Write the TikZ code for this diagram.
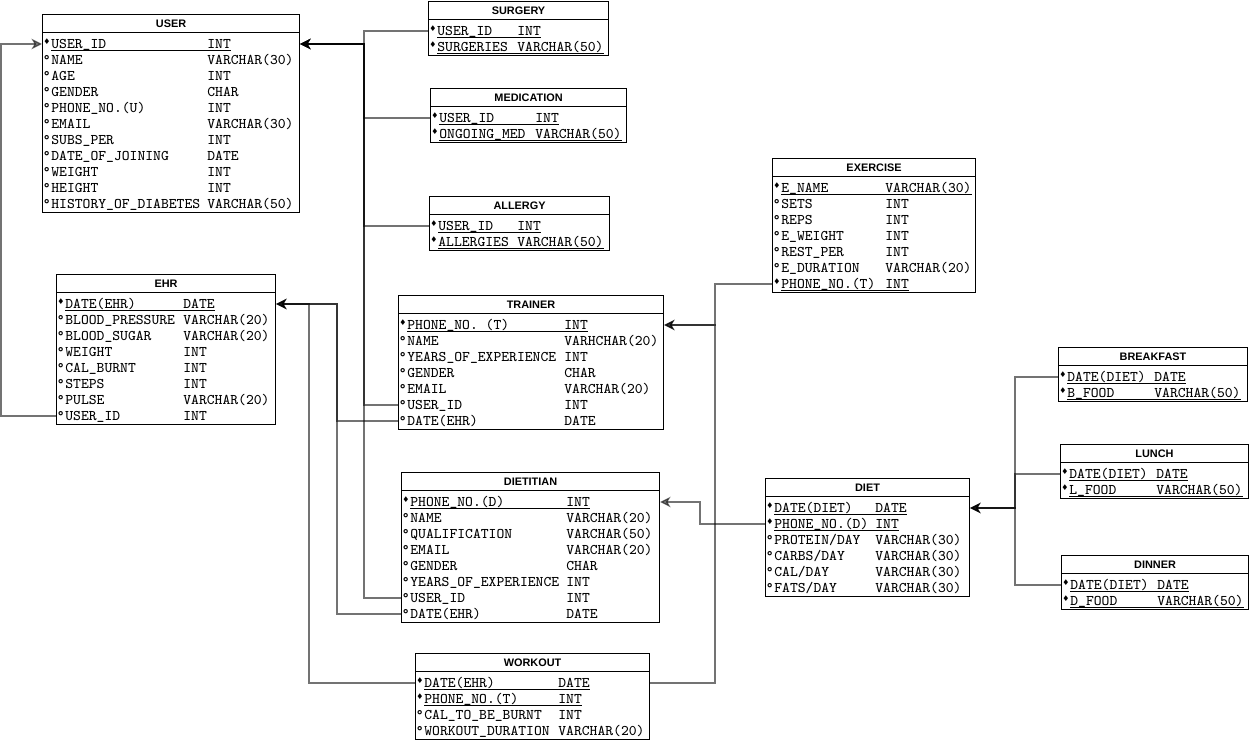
\documentclass[tikz,border=0pt]{standalone}
\usepackage{fontspec}
\usepackage{tikz}
\usetikzlibrary{arrows.meta}

\newfontfamily\hdfont{Liberation Sans}
\newfontfamily\markfont{DejaVu Sans}

\newlength{\px}
\setlength{\px}{0.02cm}

\newcommand{\keymark}{{\markfont\fontsize{4.5}{5}\selectfont\raisebox{2.3pt}{♦}}}
\newcommand{\attrmark}{°}
\newcommand{\keyline}[1]{\setbox0\hbox{#1}\rlap{\smash{\rule[-1.3pt]{\wd0}{0.45pt}}}\box0}
\newcommand{\keyrow}[3]{\hbox to 9\px{\hss\keymark\hss}\keyline{\makebox[#1\px][l]{#2}#3}}
\newcommand{\atrow}[3]{\hbox to 9\px{\hss\attrmark\hss}\makebox[#1\px][l]{#2}#3}

\tikzset{
  tbl/.style={draw, line width=0.6pt, anchor=north west, inner sep=0pt},
  hdr/.style={draw, line width=0.6pt, anchor=north west, inner sep=0pt, minimum height=18\px,
    font=\hdfont\bfseries\fontsize{6.2}{7}\selectfont},
  row/.style={anchor=west, inner sep=0pt, text height=5pt, text depth=0pt,
    font=\ttfamily\fontsize{8.4}{10}\selectfont},
  fk/.style={draw=black, opacity=0.55, line width=0.7pt,
    -{Stealth[length=6pt, width=6pt, inset=1.8pt]}}
}

\begin{document}
\begin{tikzpicture}[x=1\px, y=-1\px]
\useasboundingbox (0,0) rectangle (1249,740);

% USER
\node[tbl, minimum width=257\px, minimum height=198\px] (user) at (42,14) {};
\node[hdr, minimum width=257\px] (user-t) at (user.north west) {USER};
\node[row] (user-id) at (42,44) {\keyrow{156}{USER\_ID}{INT}};
\node[row] (user-nm) at (42,60) {\atrow{156}{NAME}{VARCHAR(30)}};
\node[row] (user-age) at (42,76) {\atrow{156}{AGE}{INT}};
\node[row] (user-gen) at (42,92) {\atrow{156}{GENDER}{CHAR}};
\node[row] (user-ph) at (42,108) {\atrow{156}{PHONE\_NO.(U)}{INT}};
\node[row] (user-em) at (42,124) {\atrow{156}{EMAIL}{VARCHAR(30)}};
\node[row] (user-sub) at (42,140) {\atrow{156}{SUBS\_PER}{INT}};
\node[row] (user-doj) at (42,156) {\atrow{156}{DATE\_OF\_JOINING}{DATE}};
\node[row] (user-wt) at (42,172) {\atrow{156}{WEIGHT}{INT}};
\node[row] (user-ht) at (42,188) {\atrow{156}{HEIGHT}{INT}};
\node[row] (user-hod) at (42,204) {\atrow{156}{HISTORY\_OF\_DIABETES}{VARCHAR(50)}};

% SURGERY
\node[tbl, minimum width=180\px, minimum height=54\px] (srg) at (428,1) {};
\node[hdr, minimum width=180\px] (srg-t) at (srg.north west) {SURGERY};
\node[row] (srg-uid) at (428,31) {\keyrow{80}{USER\_ID}{INT}};
\node[row] (srg-s) at (428,47) {\keyrow{80}{SURGERIES}{VARCHAR(50)}};

% MEDICATION
\node[tbl, minimum width=196\px, minimum height=54\px] (med) at (430,88) {};
\node[hdr, minimum width=196\px] (med-t) at (med.north west) {MEDICATION};
\node[row] (med-uid) at (430,118) {\keyrow{96}{USER\_ID}{INT}};
\node[row] (med-m) at (430,134) {\keyrow{96}{ONGOING\_MED}{VARCHAR(50)}};

% ALLERGY
\node[tbl, minimum width=180\px, minimum height=54\px] (alg) at (429,196) {};
\node[hdr, minimum width=180\px] (alg-t) at (alg.north west) {ALLERGY};
\node[row] (alg-uid) at (429,226) {\keyrow{79}{USER\_ID}{INT}};
\node[row] (alg-a) at (429,242) {\keyrow{79}{ALLERGIES}{VARCHAR(50)}};

% EHR
\node[tbl, minimum width=219\px, minimum height=150\px] (ehr) at (56,274) {};
\node[hdr, minimum width=219\px] (ehr-t) at (ehr.north west) {EHR};
\node[row] (ehr-date) at (56,304) {\keyrow{118}{DATE(EHR)}{DATE}};
\node[row] (ehr-bp) at (56,320) {\atrow{118}{BLOOD\_PRESSURE}{VARCHAR(20)}};
\node[row] (ehr-bs) at (56,336) {\atrow{118}{BLOOD\_SUGAR}{VARCHAR(20)}};
\node[row] (ehr-wt) at (56,352) {\atrow{118}{WEIGHT}{INT}};
\node[row] (ehr-cal) at (56,368) {\atrow{118}{CAL\_BURNT}{INT}};
\node[row] (ehr-st) at (56,384) {\atrow{118}{STEPS}{INT}};
\node[row] (ehr-pul) at (56,400) {\atrow{118}{PULSE}{VARCHAR(20)}};
\node[row] (ehr-uid) at (56,416) {\atrow{118}{USER\_ID}{INT}};

% TRAINER
\node[tbl, minimum width=265\px, minimum height=134\px] (trn) at (398,295) {};
\node[hdr, minimum width=265\px] (trn-t) at (trn.north west) {TRAINER};
\node[row] (trn-ph) at (398,325) {\keyrow{157}{PHONE\_NO. (T)}{INT}};
\node[row] (trn-nm) at (398,341) {\atrow{157}{NAME}{VARHCHAR(20)}};
\node[row] (trn-yoe) at (398,357) {\atrow{157}{YEARS\_OF\_EXPERIENCE}{INT}};
\node[row] (trn-gen) at (398,373) {\atrow{157}{GENDER}{CHAR}};
\node[row] (trn-em) at (398,389) {\atrow{157}{EMAIL}{VARCHAR(20)}};
\node[row] (trn-uid) at (398,405) {\atrow{157}{USER\_ID}{INT}};
\node[row] (trn-date) at (398,421) {\atrow{157}{DATE(EHR)}{DATE}};

% EXERCISE
\node[tbl, minimum width=203\px, minimum height=134\px] (exc) at (772,158) {};
\node[hdr, minimum width=203\px] (exc-t) at (exc.north west) {EXERCISE};
\node[row] (exc-nm) at (772,188) {\keyrow{104}{E\_NAME}{VARCHAR(30)}};
\node[row] (exc-set) at (772,204) {\atrow{104}{SETS}{INT}};
\node[row] (exc-rep) at (772,220) {\atrow{104}{REPS}{INT}};
\node[row] (exc-wt) at (772,236) {\atrow{104}{E\_WEIGHT}{INT}};
\node[row] (exc-rest) at (772,252) {\atrow{104}{REST\_PER}{INT}};
\node[row] (exc-dur) at (772,268) {\atrow{104}{E\_DURATION}{VARCHAR(20)}};
\node[row] (exc-ph) at (772,284) {\keyrow{104}{PHONE\_NO.(T)}{INT}};

% DIETITIAN
\node[tbl, minimum width=258\px, minimum height=150\px] (dtn) at (401,472) {};
\node[hdr, minimum width=258\px] (dtn-t) at (dtn.north west) {DIETITIAN};
\node[row] (dtn-ph) at (401,502) {\keyrow{156}{PHONE\_NO.(D)}{INT}};
\node[row] (dtn-nm) at (401,518) {\atrow{156}{NAME}{VARCHAR(20)}};
\node[row] (dtn-q) at (401,534) {\atrow{156}{QUALIFICATION}{VARCHAR(50)}};
\node[row] (dtn-em) at (401,550) {\atrow{156}{EMAIL}{VARCHAR(20)}};
\node[row] (dtn-gen) at (401,566) {\atrow{156}{GENDER}{CHAR}};
\node[row] (dtn-yoe) at (401,582) {\atrow{156}{YEARS\_OF\_EXPERIENCE}{INT}};
\node[row] (dtn-uid) at (401,598) {\atrow{156}{USER\_ID}{INT}};
\node[row] (dtn-date) at (401,614) {\atrow{156}{DATE(EHR)}{DATE}};

% DIET
\node[tbl, minimum width=204\px, minimum height=118\px] (diet) at (765,478) {};
\node[hdr, minimum width=204\px] (diet-t) at (diet.north west) {DIET};
\node[row] (diet-date) at (765,508) {\keyrow{101}{DATE(DIET)}{DATE}};
\node[row] (diet-ph) at (765,524) {\keyrow{101}{PHONE\_NO.(D)}{INT}};
\node[row] (diet-pro) at (765,540) {\atrow{101}{PROTEIN/DAY}{VARCHAR(30)}};
\node[row] (diet-carb) at (765,556) {\atrow{101}{CARBS/DAY}{VARCHAR(30)}};
\node[row] (diet-cal) at (765,572) {\atrow{101}{CAL/DAY}{VARCHAR(30)}};
\node[row] (diet-fat) at (765,588) {\atrow{101}{FATS/DAY}{VARCHAR(30)}};

% BREAKFAST, LUNCH, DINNER
\node[tbl, minimum width=189\px, minimum height=54\px] (brk) at (1058,347) {};
\node[hdr, minimum width=189\px] (brk-t) at (brk.north west) {BREAKFAST};
\node[row] (brk-date) at (1058,377) {\keyrow{87}{DATE(DIET)}{DATE}};
\node[row] (brk-f) at (1058,393) {\keyrow{87}{B\_FOOD}{VARCHAR(50)}};

\node[tbl, minimum width=188\px, minimum height=54\px] (lun) at (1060,444) {};
\node[hdr, minimum width=188\px] (lun-t) at (lun.north west) {LUNCH};
\node[row] (lun-date) at (1060,474) {\keyrow{87}{DATE(DIET)}{DATE}};
\node[row] (lun-f) at (1060,490) {\keyrow{87}{L\_FOOD}{VARCHAR(50)}};

\node[tbl, minimum width=187\px, minimum height=54\px] (din) at (1061,555) {};
\node[hdr, minimum width=187\px] (din-t) at (din.north west) {DINNER};
\node[row] (din-date) at (1061,585) {\keyrow{87}{DATE(DIET)}{DATE}};
\node[row] (din-f) at (1061,601) {\keyrow{87}{D\_FOOD}{VARCHAR(50)}};

% WORKOUT
\node[tbl, minimum width=234\px, minimum height=86\px] (wko) at (415,653) {};
\node[hdr, minimum width=234\px] (wko-t) at (wko.north west) {WORKOUT};
\node[row] (wko-date) at (415,683) {\keyrow{134}{DATE(EHR)}{DATE}};
\node[row] (wko-ph) at (415,699) {\keyrow{134}{PHONE\_NO.(T)}{INT}};
\node[row] (wko-cal) at (415,715) {\atrow{134}{CAL\_TO\_BE\_BURNT}{INT}};
\node[row] (wko-dur) at (415,731) {\atrow{134}{WORKOUT\_DURATION}{VARCHAR(20)}};

% links
\coordinate (utrunk) at (364,0);
\coordinate (etrunk) at (337,0);
\coordinate (wtrunk) at (309,0);
\coordinate (ttrunk) at (715,0);
\coordinate (dtrunk) at (700,0);
\coordinate (mtrunk) at (1015,0);

\draw[fk] (ehr-uid.west) -- ++(-55,0) |- (user-id.west);
\draw[fk] (srg-uid.west) -| (utrunk |- user-id) -- (user.east |- user-id);
\draw[fk] (med-uid.west) -| (utrunk |- user-id) -- (user.east |- user-id);
\draw[fk] (alg-uid.west) -| (utrunk |- user-id) -- (user.east |- user-id);
\draw[fk] (trn-uid.west) -| (utrunk |- user-id) -- (user.east |- user-id);
\draw[fk] (dtn-uid.west) -| (utrunk |- user-id) -- (user.east |- user-id);

\draw[fk] (trn-date.west) -| (etrunk |- ehr-date) -- (ehr.east |- ehr-date);
\draw[fk] (dtn-date.west) -| (etrunk |- ehr-date) -- (ehr.east |- ehr-date);
\draw[fk] (wko-date.west) -| (wtrunk |- ehr-date) -- (ehr.east |- ehr-date);

\draw[fk] (exc-ph.west) -| (ttrunk |- trn-ph) -- (trn.east |- trn-ph);
\draw[fk] (wko.east |- wko-date) -| (ttrunk |- trn-ph) -- (trn.east |- trn-ph);

\draw[fk] (diet-ph.west) -| (dtrunk |- dtn-ph) -- (dtn.east |- dtn-ph);

\draw[fk] (brk-date.west) -| (mtrunk |- diet-date) -- (diet.east |- diet-date);
\draw[fk] (lun-date.west) -| (mtrunk |- diet-date) -- (diet.east |- diet-date);
\draw[fk] (din-date.west) -| (mtrunk |- diet-date) -- (diet.east |- diet-date);

\end{tikzpicture}
\end{document}
